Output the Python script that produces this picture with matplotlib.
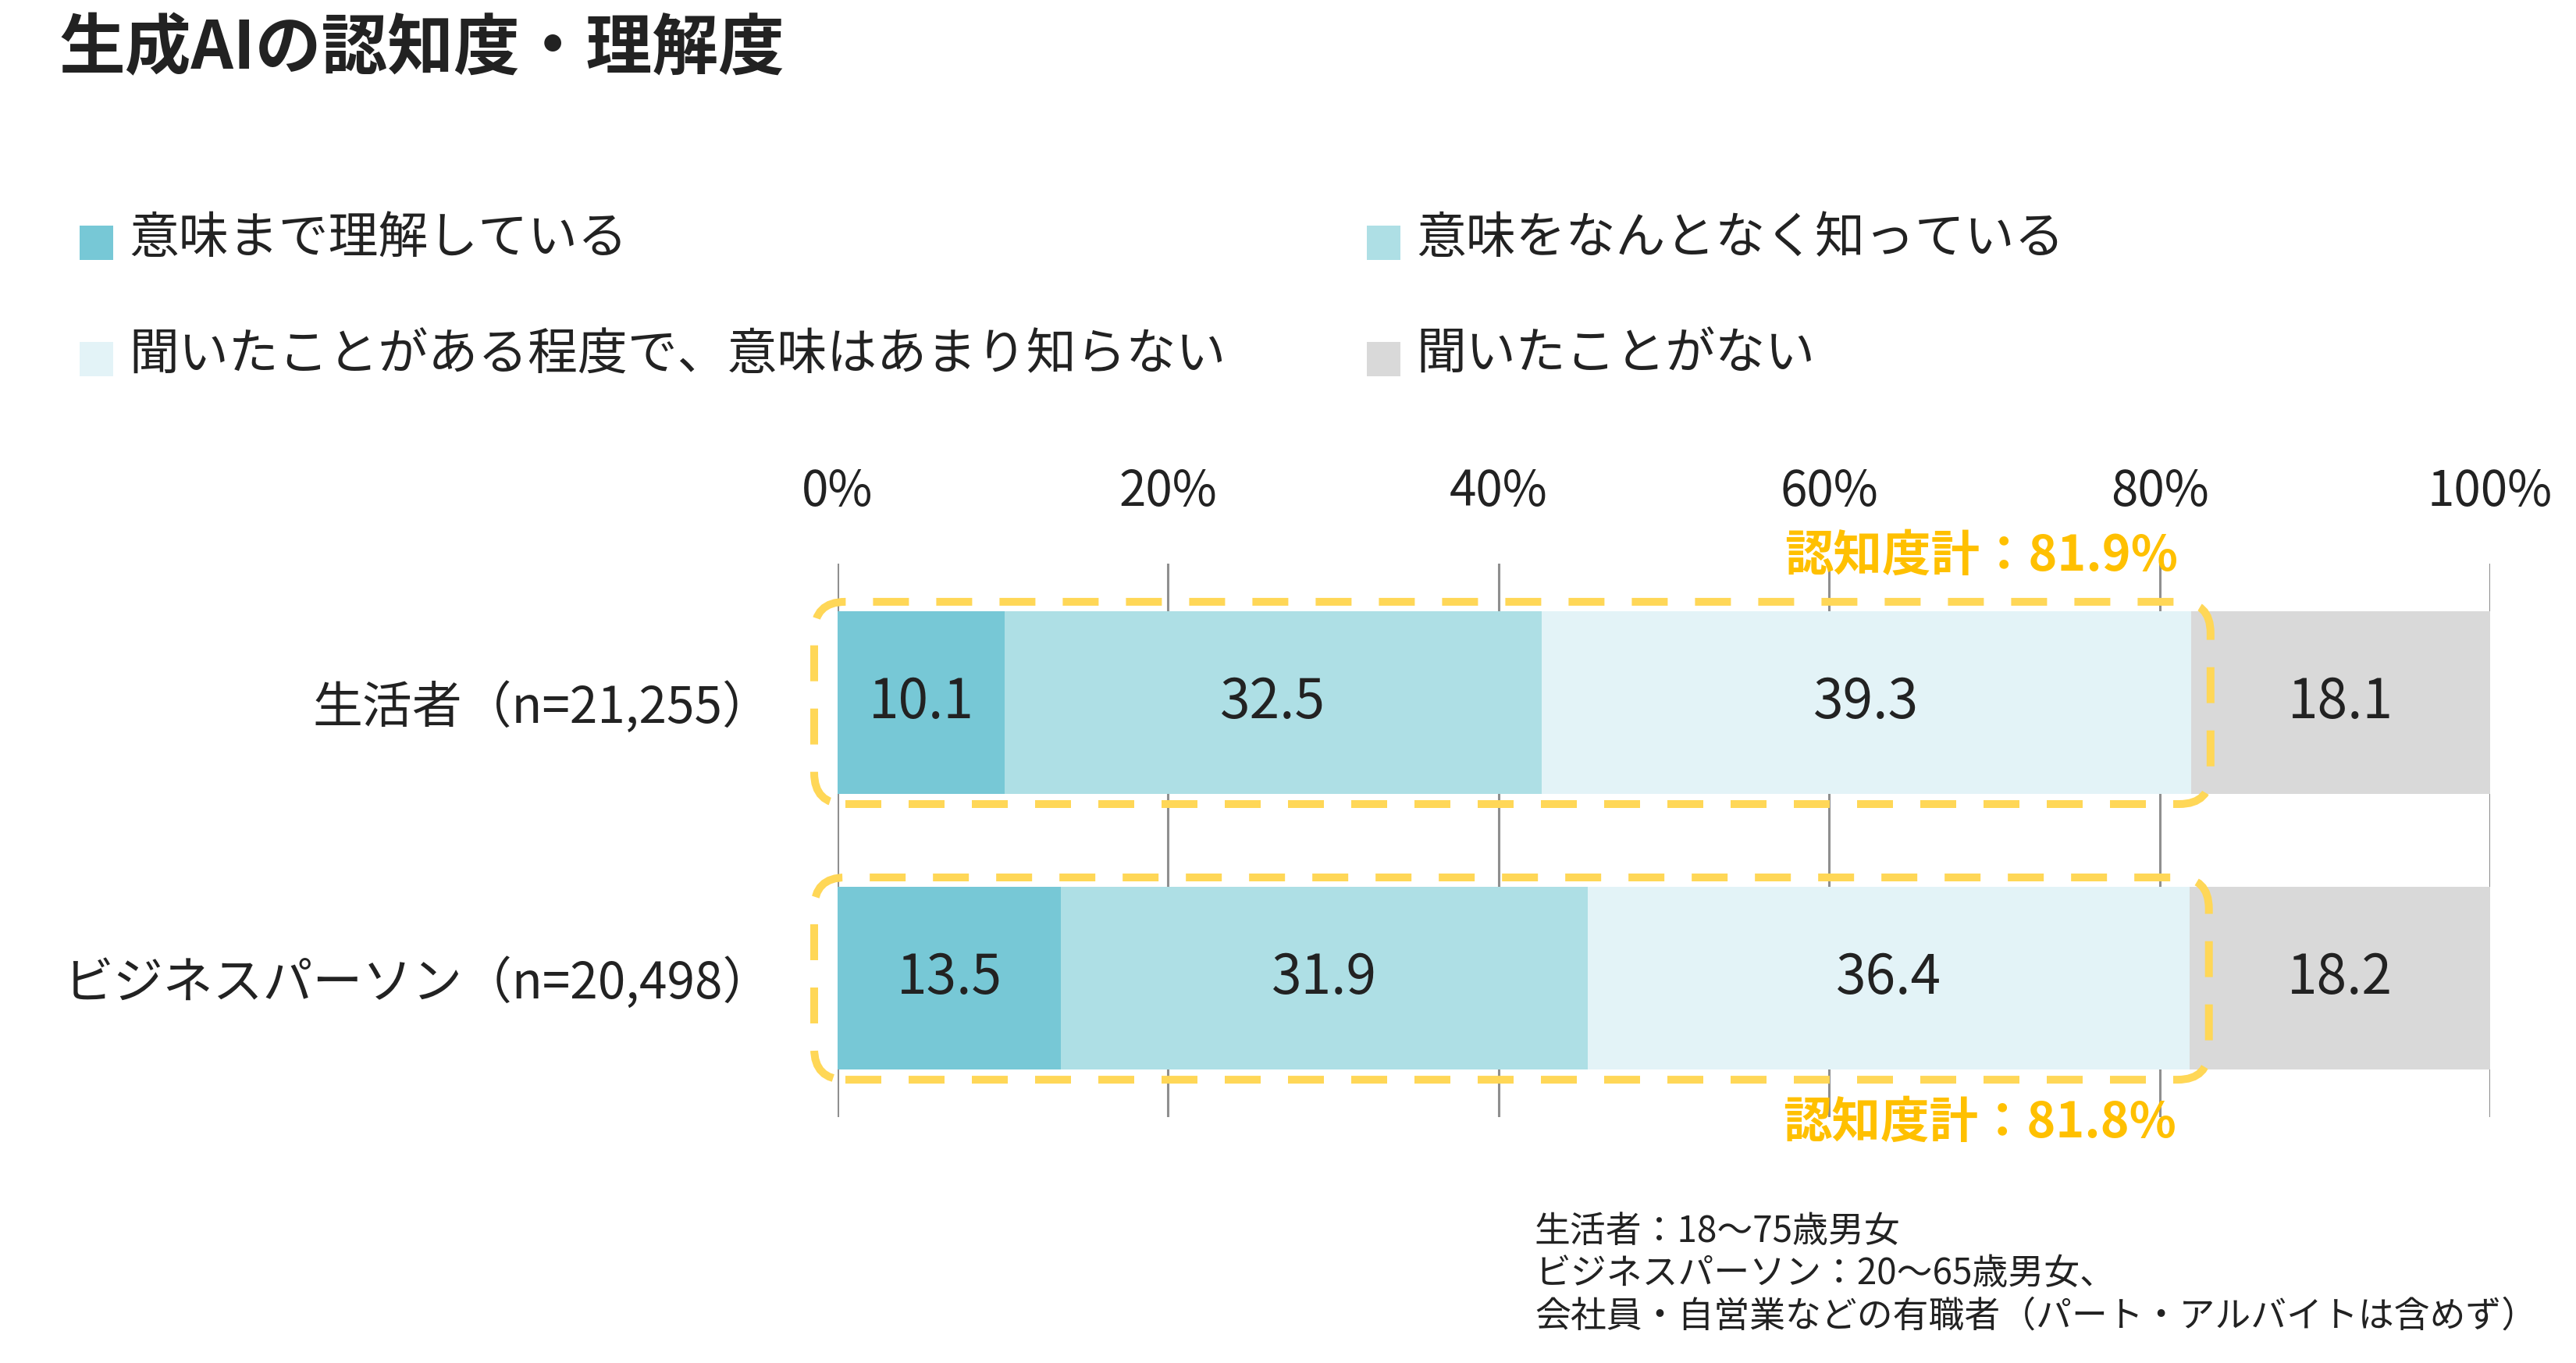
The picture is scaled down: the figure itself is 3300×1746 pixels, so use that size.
import matplotlib
matplotlib.use("Agg")
import matplotlib.pyplot as plt
from matplotlib.patches import FancyBboxPatch, Rectangle
from matplotlib.transforms import IdentityTransform
import numpy as np

plt.rcParams['font.family'] = ['Noto Sans CJK JP', 'DejaVu Sans']

# ---------------- data ----------------
title = "生成AIの認知度・理解度"
categories = ["生活者（n=21,255）", "ビジネスパーソン（n=20,498）"]
series_names = ["意味まで理解している",
                "意味をなんとなく知っている",
                "聞いたことがある程度で、意味はあまり知らない",
                "聞いたことがない"]
understand = [10.1, 13.5]
vaguely = [32.5, 31.9]
heard_only = [39.3, 36.4]
never_heard = [18.1, 18.2]
awareness_total = [81.9, 81.8]
xticks = [0, 20, 40, 60, 80, 100]
xtick_labels = ["0%", "20%", "40%", "60%", "80%", "100%"]
footnotes = ["生活者：18〜75歳男女",
             "ビジネスパーソン：20〜65歳男女、",
             "会社員・自営業などの有職者（パート・アルバイトは含めず）"]

# ---------------- style ----------------
colors = ["#77C8D6", "#AEDFE5", "#E3F3F7", "#D9D9D9"]
text_color = "#222222"
box_color = "#FFD757"
label_color = "#FFC000"
W, H, DPI = 3300, 1746, 200

fig = plt.figure(figsize=(W / DPI, H / DPI), dpi=DPI)
fig.patch.set_facecolor("white")

def fx(px):
    return px / W

def fy(py):
    return 1 - py / H

ax = fig.add_axes([fx(1073), fy(1431), (3190 - 1073) / W, (1431 - 722) / H])
ax.set_xlim(0, 100)
ax.set_ylim(1.504, -0.504)

series = [understand, vaguely, heard_only, never_heard]
ypos = np.arange(len(categories))
bar_h = 0.663
left = np.zeros(len(categories))
for vals, col in zip(series, colors):
    cont = ax.barh(ypos, vals, left=left, height=bar_h, color=col,
                   edgecolor="none", zorder=2)
    ax.bar_label(cont, labels=[f"{v:.1f}" for v in vals], label_type="center",
                 fontsize=25, color=text_color, zorder=3)
    left += np.array(vals)

# axes styling
for s in ax.spines.values():
    s.set_visible(False)
ax.set_xticks(xticks, xtick_labels)
ax.xaxis.tick_top()
ax.tick_params(axis="x", length=0, pad=21.5, labelsize=22.3, colors=text_color)
ax.xaxis.grid(True, color="#8F8F8F", linewidth=1.1, zorder=0)
ax.set_axisbelow(True)
ax.set_yticks(ypos, categories)
ax.tick_params(axis="y", length=0, pad=30, labelsize=23, colors=text_color)

# dashed rounded boxes + awareness labels
lw_pt = 3.6
for i, tot in enumerate(awareness_total):
    (xa, ya) = ax.transData.transform((0, ypos[i] - bar_h / 2))
    (xb, yb) = ax.transData.transform((tot, ypos[i] + bar_h / 2))
    x0, x1 = min(xa, xb) - 30, max(xa, xb) + 25
    y0, y1 = min(ya, yb) - 13, max(ya, yb) + 12
    box = FancyBboxPatch((x0, y0), x1 - x0, y1 - y0,
                         boxstyle="round,pad=0,rounding_size=40",
                         transform=IdentityTransform(), fill=False,
                         edgecolor=box_color, linewidth=lw_pt,
                         linestyle=(0, (4.6, 3.5)), zorder=5, clip_on=False)
    ax.add_patch(box)
    if i == 0:
        ax.annotate(f"認知度計：{tot}%", xy=(tot, ypos[i] - bar_h / 2),
                    xytext=(-6, 25.5), textcoords="offset points",
                    ha="right", va="center", fontsize=22.5, fontweight="bold",
                    color=label_color, annotation_clip=False)
    else:
        ax.annotate(f"認知度計：{tot}%", xy=(tot, ypos[i] + bar_h / 2),
                    xytext=(-6, -24.5), textcoords="offset points",
                    ha="right", va="center", fontsize=22.5, fontweight="bold",
                    color=label_color, annotation_clip=False)

# title
fig.text(fx(76), fy(63), title, fontsize=30.5, fontweight="bold",
         color=text_color, va="center", ha="left")

# legend (manual)
leg_pos = [(102, 311), (1751, 311), (102, 460), (1751, 460)]
sq = 43
for name, col, (lx, ly) in zip(series_names, colors, leg_pos):
    fig.add_artist(Rectangle((fx(lx), fy(ly + sq / 2)), sq / W, sq / H,
                             transform=fig.transFigure, facecolor=col,
                             edgecolor="none"))
    fig.text(fx(lx + 63), fy(ly - 5), name, fontsize=23, color=text_color,
             va="center", ha="left")

# footnotes
for k, line in enumerate(footnotes):
    fig.text(fx(1966), fy(1578 + 54 * k), line, fontsize=16.5,
             color=text_color, va="center", ha="left")

fig.savefig("out.png", dpi=DPI, facecolor="white")
